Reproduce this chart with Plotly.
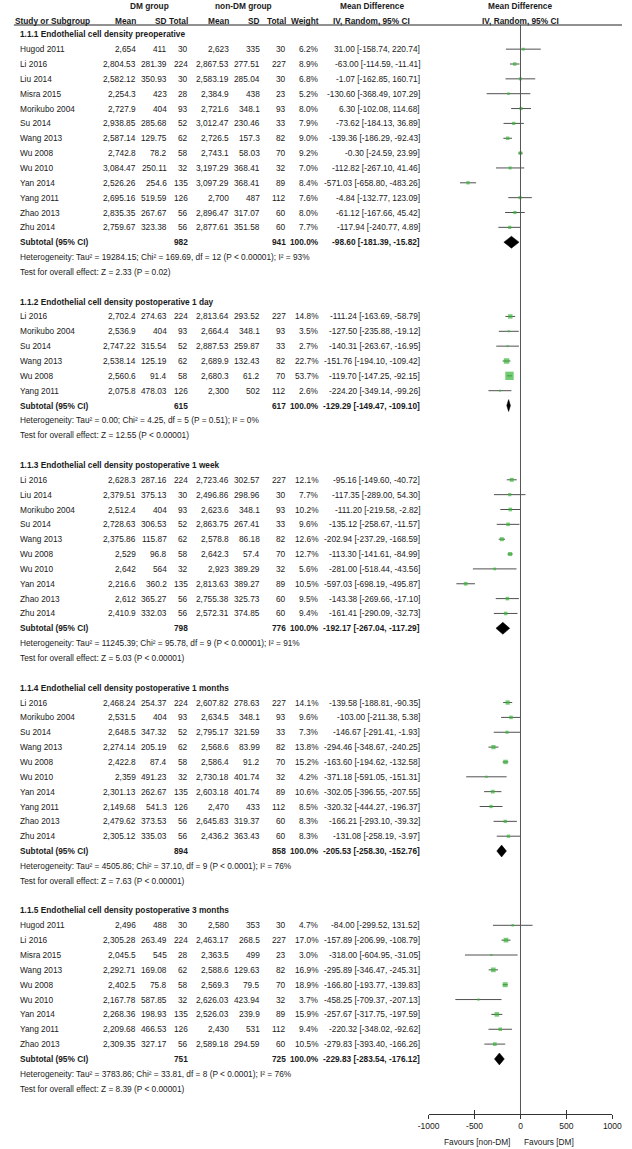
import plotly.graph_objects as go

# ---------------- data ----------------
section_titles = [
    "1.1.1 Endothelial cell density preoperative",
    "1.1.2 Endothelial cell density postoperative 1 day",
    "1.1.3 Endothelial cell density postoperative 1 week",
    "1.1.4 Endothelial cell density postoperative 1 months",
    "1.1.5 Endothelial cell density postoperative 3 months",
]
study = [
    "Hugod 2011", "Li 2016", "Liu 2014", "Misra 2015", "Morikubo 2004", "Su 2014", "Wang 2013",
    "Wu 2008", "Wu 2010", "Yan 2014", "Yang 2011", "Zhao 2013", "Zhu 2014",
    "Li 2016", "Morikubo 2004", "Su 2014", "Wang 2013", "Wu 2008", "Yang 2011",
    "Li 2016", "Liu 2014", "Morikubo 2004", "Su 2014", "Wang 2013", "Wu 2008", "Wu 2010",
    "Yan 2014", "Zhao 2013", "Zhu 2014",
    "Li 2016", "Morikubo 2004", "Su 2014", "Wang 2013", "Wu 2008", "Wu 2010", "Yan 2014",
    "Yang 2011", "Zhao 2013", "Zhu 2014",
    "Hugod 2011", "Li 2016", "Misra 2015", "Wang 2013", "Wu 2008", "Wu 2010", "Yan 2014",
    "Yang 2011", "Zhao 2013",
]
section = [0] * 13 + [1] * 6 + [2] * 10 + [3] * 10 + [4] * 9
dm_mean = [
    2654, 2804.53, 2582.12, 2254.3, 2727.9, 2938.85, 2587.14, 2742.8, 3084.47, 2526.26, 2695.16, 2835.35, 2759.67,
    2702.4, 2536.9, 2747.22, 2538.14, 2560.6, 2075.8,
    2628.3, 2379.51, 2512.4, 2728.63, 2375.86, 2529, 2642, 2216.6, 2612, 2410.9,
    2468.24, 2531.5, 2648.5, 2274.14, 2422.8, 2359, 2301.13, 2149.68, 2479.62, 2305.12,
    2496, 2305.28, 2045.5, 2292.71, 2402.5, 2167.78, 2268.36, 2209.68, 2309.35,
]
dm_sd = [
    411, 281.39, 350.93, 423, 404, 285.68, 129.75, 78.2, 250.11, 254.6, 519.59, 267.67, 323.38,
    274.63, 404, 315.54, 125.19, 91.4, 478.03,
    287.16, 375.13, 404, 306.53, 115.87, 96.8, 564, 360.2, 365.27, 332.03,
    254.37, 404, 347.32, 205.19, 87.4, 491.23, 262.67, 541.3, 373.53, 335.03,
    488, 263.49, 545, 169.08, 75.8, 587.85, 198.93, 466.53, 327.17,
]
dm_n = [
    30, 224, 30, 28, 93, 52, 62, 58, 32, 135, 126, 56, 56,
    224, 93, 52, 62, 58, 126,
    224, 30, 93, 52, 62, 58, 32, 135, 56, 56,
    224, 93, 52, 62, 58, 32, 135, 126, 56, 56,
    30, 224, 28, 62, 58, 32, 135, 126, 56,
]
ndm_mean = [
    2623, 2867.53, 2583.19, 2384.9, 2721.6, 3012.47, 2726.5, 2743.1, 3197.29, 3097.29, 2700, 2896.47, 2877.61,
    2813.64, 2664.4, 2887.53, 2689.9, 2680.3, 2300,
    2723.46, 2496.86, 2623.6, 2863.75, 2578.8, 2642.3, 2923, 2813.63, 2755.38, 2572.31,
    2607.82, 2634.5, 2795.17, 2568.6, 2586.4, 2730.18, 2603.18, 2470, 2645.83, 2436.2,
    2580, 2463.17, 2363.5, 2588.6, 2569.3, 2626.03, 2526.03, 2430, 2589.18,
]
ndm_sd = [
    335, 277.51, 285.04, 438, 348.1, 230.46, 157.3, 58.03, 368.41, 368.41, 487, 317.07, 351.58,
    293.52, 348.1, 259.87, 132.43, 61.2, 502,
    302.57, 298.96, 348.1, 267.41, 86.18, 57.4, 389.29, 389.27, 325.73, 374.85,
    278.63, 348.1, 321.59, 83.99, 91.2, 401.74, 401.74, 433, 319.37, 363.43,
    353, 268.5, 499, 129.63, 79.5, 423.94, 239.9, 531, 294.59,
]
ndm_n = [
    30, 227, 30, 23, 93, 33, 82, 70, 32, 89, 112, 60, 60,
    227, 93, 33, 82, 70, 112,
    227, 30, 93, 33, 82, 70, 32, 89, 60, 60,
    227, 93, 33, 82, 70, 32, 89, 112, 60, 60,
    30, 227, 23, 82, 70, 32, 89, 112, 60,
]
weight = [
    6.2, 8.9, 6.8, 5.2, 8.0, 7.9, 9.0, 9.2, 7.0, 8.4, 7.6, 8.0, 7.7,
    14.8, 3.5, 2.7, 22.7, 53.7, 2.6,
    12.1, 7.7, 10.2, 9.6, 12.6, 12.7, 5.6, 10.5, 9.5, 9.4,
    14.1, 9.6, 7.3, 13.8, 15.2, 4.2, 10.6, 8.5, 8.3, 8.3,
    4.7, 17.0, 3.0, 16.9, 18.9, 3.7, 15.9, 9.4, 10.5,
]
md = [
    31.00, -63.00, -1.07, -130.60, 6.30, -73.62, -139.36, -0.30, -112.82, -571.03, -4.84, -61.12, -117.94,
    -111.24, -127.50, -140.31, -151.76, -119.70, -224.20,
    -95.16, -117.35, -111.20, -135.12, -202.94, -113.30, -281.00, -597.03, -143.38, -161.41,
    -139.58, -103.00, -146.67, -294.46, -163.60, -371.18, -302.05, -320.32, -166.21, -131.08,
    -84.00, -157.89, -318.00, -295.89, -166.80, -458.25, -257.67, -220.32, -279.83,
]
ci_low = [
    -158.74, -114.59, -162.85, -368.49, -102.08, -184.13, -186.29, -24.59, -267.10, -658.80, -132.77, -167.66, -240.77,
    -163.69, -235.88, -263.67, -194.10, -147.25, -349.14,
    -149.60, -289.00, -219.58, -258.67, -237.29, -141.61, -518.44, -698.19, -269.66, -290.09,
    -188.81, -211.38, -291.41, -348.67, -194.62, -591.05, -396.55, -444.27, -293.10, -258.19,
    -299.52, -206.99, -604.95, -346.47, -193.77, -709.37, -317.75, -348.02, -393.40,
]
ci_high = [
    220.74, -11.41, 160.71, 107.29, 114.68, 36.89, -92.43, 23.99, 41.46, -483.26, 123.09, 45.42, 4.89,
    -58.79, -19.12, -16.95, -109.42, -92.15, -99.26,
    -40.72, 54.30, -2.82, -11.57, -168.59, -84.99, -43.56, -495.87, -17.10, -32.73,
    -90.35, 5.38, -1.93, -240.25, -132.58, -151.31, -207.55, -196.37, -39.32, -3.97,
    131.52, -108.79, -31.05, -245.31, -139.83, -207.13, -197.59, -92.62, -166.26,
]
sub_dm_n = [982, 615, 798, 894, 751]
sub_ndm_n = [941, 617, 776, 858, 725]
sub_md = [-98.60, -129.29, -192.17, -205.53, -229.83]
sub_low = [-181.39, -149.47, -267.04, -258.30, -283.54]
sub_high = [-15.82, -109.10, -117.29, -152.76, -176.12]
heterogeneity = [
    "Heterogeneity: Tau² = 19284.15; Chi² = 169.69, df = 12 (P < 0.00001); I² = 93%",
    "Heterogeneity: Tau² = 0.00; Chi² = 4.25, df = 5 (P = 0.51); I² = 0%",
    "Heterogeneity: Tau² = 11245.39; Chi² = 95.78, df = 9 (P < 0.00001); I² = 91%",
    "Heterogeneity: Tau² = 4505.86; Chi² = 37.10, df = 9 (P < 0.0001); I² = 76%",
    "Heterogeneity: Tau² = 3783.86; Chi² = 33.81, df = 8 (P < 0.0001); I² = 76%",
]
overall_effect = [
    "Test for overall effect: Z = 2.33 (P = 0.02)",
    "Test for overall effect: Z = 12.55 (P < 0.00001)",
    "Test for overall effect: Z = 5.03 (P < 0.00001)",
    "Test for overall effect: Z = 7.63 (P < 0.00001)",
    "Test for overall effect: Z = 8.39 (P < 0.00001)",
]
axis_ticks = [-1000, -500, 0, 500, 1000]
favours_left = "Favours [non-DM]"
favours_right = "Favours [DM]"

# ---------------- layout helpers ----------------
W, H = 632, 1149
PX0, ROWH = 34.3, 14.85          # pixel y of row 2, row height


def to_row(py):
    return (py - PX0) / ROWH + 2


def fnum(v):
    s = f"{v:,.2f}"
    if "." in s:
        s = s.rstrip("0").rstrip(".")
    return s


FONT = "Liberation Sans Narrow, Arial Narrow, Liberation Sans, Arial, sans-serif"
FS = 8.3
TXT = "#1a1a1a"

COL = {"name": 8, "dm_mean": 130, "dm_sd": 162, "dm_n": 184, "nd_mean": 227,
       "nd_sd": 259, "nd_n": 285, "w": 320, "ci": 424}

ann = []


def text(x, row, s, anchor="right", bold=False, yref="y"):
    ann.append(dict(x=x / W, xref="paper", y=row, yref=yref, text=(f"<b>{s}</b>" if bold else s),
                    showarrow=False, xanchor=anchor, yanchor="middle",
                    font=dict(family=FONT, size=FS, color=TXT), borderpad=0))


# headers
text(143, to_row(6), "DM group", "center", True)
text(240, to_row(6), "non-DM group", "center", True)
text(373, to_row(6), "Mean Difference", "center", True)
text(527, to_row(6), "Mean Difference", "center", True)
hr = to_row(20.5)
text(COL["name"] - 5, hr, "Study or Subgroup", "left", True)
for key, lab in [("dm_mean", "Mean"), ("dm_sd", "SD"), ("dm_n", "Total"), ("nd_mean", "Mean"),
                 ("nd_sd", "SD"), ("nd_n", "Total"), ("w", "Weight")]:
    text(COL[key], hr, lab, "right", True)
text(373, hr, "IV, Random, 95% CI", "center", True)
text(527, hr, "IV, Random, 95% CI", "center", True)

# rows
study_rows = []
sub_rows = []
r = 2
for s in range(len(section_titles)):
    text(COL["name"], r, section_titles[s], "left", True)
    r += 1
    for i in range(len(study)):
        if section[i] != s:
            continue
        text(COL["name"], r, study[i], "left")
        text(COL["dm_mean"], r, fnum(dm_mean[i]))
        text(COL["dm_sd"], r, fnum(dm_sd[i]))
        text(COL["dm_n"], r, str(dm_n[i]))
        text(COL["nd_mean"], r, fnum(ndm_mean[i]))
        text(COL["nd_sd"], r, fnum(ndm_sd[i]))
        text(COL["nd_n"], r, str(ndm_n[i]))
        text(COL["w"], r, f"{weight[i]:.1f}%")
        text(COL["ci"], r, f"{md[i]:.2f} [{ci_low[i]:.2f}, {ci_high[i]:.2f}]")
        study_rows.append(r)
        r += 1
    text(COL["name"], r, "Subtotal (95% CI)", "left", True)
    text(COL["dm_n"], r, str(sub_dm_n[s]), "right", True)
    text(COL["nd_n"], r, str(sub_ndm_n[s]), "right", True)
    text(COL["w"], r, "100.0%", "right", True)
    text(COL["ci"], r, f"{sub_md[s]:.2f} [{sub_low[s]:.2f}, {sub_high[s]:.2f}]", "right", True)
    sub_rows.append(r)
    r += 1
    text(COL["name"], r, heterogeneity[s], "left")
    r += 1
    text(COL["name"], r, overall_effect[s], "left")
    r += 2

# favours labels
ann.append(dict(x=482 / W, xref="paper", y=1 - 1142 / H, yref="paper", text=favours_left, showarrow=False,
                xanchor="center", yanchor="middle", font=dict(family=FONT, size=FS, color=TXT)))
ann.append(dict(x=557 / W, xref="paper", y=1 - 1142 / H, yref="paper", text=favours_right, showarrow=False,
                xanchor="center", yanchor="middle", font=dict(family=FONT, size=FS, color=TXT)))

fig = go.Figure()

# study CIs + weighted squares
sizes = [max(2.0, (1.3 * w) ** 0.5) for w in weight]
fig.add_trace(go.Scatter(
    x=md, y=study_rows, mode="markers",
    marker=dict(symbol="square", size=sizes, color="#38b538", line=dict(width=0)),
    error_x=dict(type="data", symmetric=False,
                 array=[h - m for h, m in zip(ci_high, md)],
                 arrayminus=[m - l for m, l in zip(md, ci_low)],
                 width=0, thickness=1, color="#505050"),
    cliponaxis=False, hoverinfo="skip", showlegend=False))

# subtotal diamonds
dx, dy = [], []
for s in range(len(sub_md)):
    rr = sub_rows[s]
    dx += [sub_low[s], sub_md[s], sub_high[s], sub_md[s], sub_low[s], None]
    dy += [rr, rr - 0.4, rr, rr + 0.4, rr, None]
fig.add_trace(go.Scatter(x=dx, y=dy, mode="lines", fill="toself", fillcolor="black",
                         line=dict(color="black", width=0.5), hoverinfo="skip", showlegend=False))

# invisible trace for overlay tick axis
fig.add_trace(go.Scatter(x=[0], y=[0], xaxis="x2", yaxis="y", mode="markers",
                         marker=dict(opacity=0), hoverinfo="skip", showlegend=False))

axis_pos = 1 - 1114 / H
dom = [432 / W, 622 / W]
fig.update_layout(
    width=W, height=H, margin=dict(l=0, r=0, t=0, b=0),
    paper_bgcolor="white", plot_bgcolor="white",
    xaxis=dict(domain=dom, range=[-1000, 1000], anchor="free", position=axis_pos,
               tickvals=axis_ticks, ticktext=[str(v) for v in axis_ticks],
               ticks="outside", ticklen=4, tickcolor="#333", tickwidth=1,
               showline=True, linecolor="#333", linewidth=1, showgrid=False, zeroline=False,
               tickfont=dict(family=FONT, size=8.5, color=TXT)),
    xaxis2=dict(domain=dom, range=[-1000, 1000], anchor="free", position=axis_pos, overlaying="x",
                tickvals=axis_ticks, ticks="inside", ticklen=4, tickcolor="#333", tickwidth=1,
                showticklabels=False, showline=False, showgrid=False, zeroline=False),
    yaxis=dict(domain=[0, 1], range=[to_row(H), to_row(0)], visible=False),
    annotations=ann,
    shapes=[
        dict(type="line", xref="x", yref="paper", x0=0, x1=0, y0=1 - 25 / H, y1=axis_pos,
             line=dict(color="#555", width=1)),
        dict(type="line", xref="paper", yref="paper", x0=3 / W, x1=1, y0=1 - 25 / H, y1=1 - 25 / H,
             line=dict(color="#222", width=1)),
    ],
)

fig.write_html("out.html", config={"displayModeBar": False},
               post_script="document.body.style.margin='0px';")
